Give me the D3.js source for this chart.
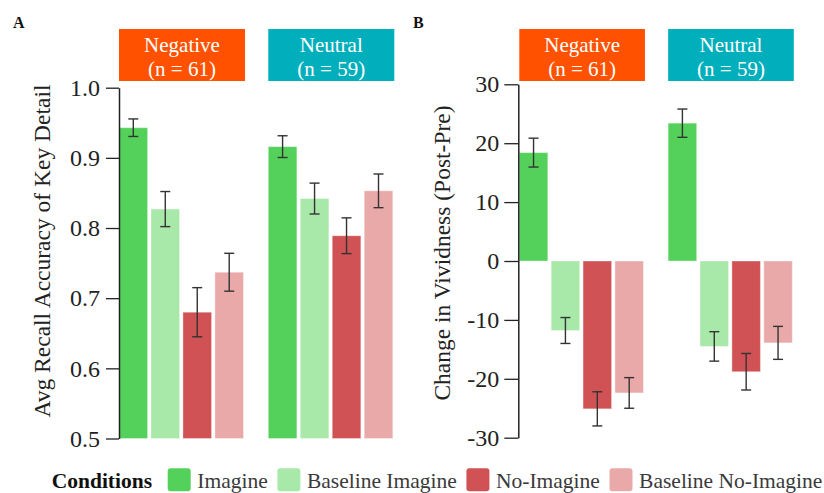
<!DOCTYPE html>
<html>
<head>
<meta charset="utf-8">
<script src="https://cdn.jsdelivr.net/npm/d3@7/dist/d3.min.js"></script>
<style>
  html, body { margin: 0; padding: 0; background: #fff; }
  svg { display: block; }
</style>
</head>
<body>
<svg id="chart" width="824" height="493"></svg>
<script>
// ---- data ----
const groups = ["Negative", "Neutral"];
const groupN = ["(n = 61)", "(n = 59)"];
const conditions = ["Imagine", "Baseline Imagine", "No-Imagine", "Baseline No-Imagine"];

// Panel A: average recall accuracy of key detail (mean, SE), per group
const recallNegative = [0.943, 0.827, 0.680, 0.737];
const recallNegativeErr = [0.0125, 0.025, 0.035, 0.027];
const recallNeutral = [0.916, 0.842, 0.789, 0.853];
const recallNeutralErr = [0.0155, 0.022, 0.0255, 0.024];
const recallTicks = [0.5, 0.6, 0.7, 0.8, 0.9, 1.0];
const recallTickLabels = ["0.5", "0.6", "0.7", "0.8", "0.9", "1.0"];

// Panel B: change in vividness (post - pre)
const vividNegative = [18.4, -11.8, -25.1, -22.4];
const vividNegativeErr = [2.45, 2.2, 2.9, 2.6];
const vividNeutral = [23.4, -14.5, -18.8, -13.9];
const vividNeutralErr = [2.4, 2.5, 3.1, 2.8];
const vividTicks = [-30, -20, -10, 0, 10, 20, 30];
const vividTickLabels = ["-30", "-20", "-10", "0", "10", "20", "30"];

const conditionColors = ["#54d15a", "#a8e8a8", "#d05254", "#e9a9a9"];
const groupColors = ["#ff5100", "#00afbb"];

const SERIF = "'Liberation Serif'";
const svg = d3.select("#chart");
const FONT_TICK = 24, FONT_TITLE = 23.5;

function panel(opts) {
  const g = svg.append("g");
  const y = d3.scaleLinear().domain(opts.domain).range([opts.yBottom, opts.yTop]);
  const x0 = d3.scaleBand().domain(groups)
    .range([opts.xLeft, opts.xRight]).paddingInner(0.166).paddingOuter(0);
  const x1 = d3.scaleBand().domain(conditions)
    .range([0, x0.bandwidth()]).paddingInner(0.106).paddingOuter(0);

  const rows = [];
  groups.forEach((grp, gi) => {
    conditions.forEach((c, ci) => {
      rows.push({ grp, gi, c, ci, v: opts.values[gi][ci], e: opts.errors[gi][ci] });
    });
  });

  // group header boxes
  groups.forEach((grp, gi) => {
    const bx = x0(grp);
    g.append("rect")
      .attr("x", bx).attr("y", 29)
      .attr("width", x0.bandwidth() + 1.5).attr("height", 52)
      .attr("fill", groupColors[gi]);
    const cx = bx + (x0.bandwidth() + 1.5) / 2;
    g.append("text").attr("x", cx).attr("y", 51.5)
      .attr("text-anchor", "middle").attr("fill", "#fff")
      .style("font-family", SERIF).attr("font-size", 21).text(grp);
    g.append("text").attr("x", cx).attr("y", 75.5)
      .attr("text-anchor", "middle").attr("fill", "#fff")
      .style("font-family", SERIF).attr("font-size", 21).text(groupN[gi]);
  });

  // bars
  const base = opts.baseline;
  g.append("g").selectAll("rect").data(rows).join("rect")
    .attr("x", d => x0(d.grp) + x1(d.c))
    .attr("width", x1.bandwidth())
    .attr("y", d => Math.min(y(d.v), y(base)))
    .attr("height", d => Math.abs(y(d.v) - y(base)))
    .attr("fill", d => conditionColors[d.ci])
    .attr("stroke", "#ffffff").attr("stroke-opacity", 0.35).attr("stroke-width", 1);

  // error bars
  const eb = g.append("g").attr("stroke", "#333").attr("stroke-width", 1.4).attr("fill", "none");
  rows.forEach(d => {
    const cx = x0(d.grp) + x1(d.c) + x1.bandwidth() / 2;
    const y1 = y(d.v + d.e), y2 = y(d.v - d.e);
    eb.append("line").attr("x1", cx).attr("x2", cx).attr("y1", y1).attr("y2", y2);
    eb.append("line").attr("x1", cx - 5).attr("x2", cx + 5).attr("y1", y1).attr("y2", y1);
    eb.append("line").attr("x1", cx - 5).attr("x2", cx + 5).attr("y1", y2).attr("y2", y2);
  });

  // y axis
  const axis = d3.axisLeft(y)
    .tickValues(opts.ticks)
    .tickFormat((d, i) => opts.tickLabels[i])
    .tickSize(opts.tickSize).tickPadding(opts.tickPad).tickSizeOuter(0);
  const ag = g.append("g").attr("transform", `translate(${opts.axisX},0)`).call(axis);
  ag.select(".domain").attr("stroke", "#222").attr("stroke-width", 1.5);
  ag.selectAll(".tick line").attr("stroke", "#222").attr("stroke-width", 1.3);
  ag.selectAll(".tick text")
    .style("font-family", SERIF)
    .attr("font-size", FONT_TICK).attr("fill", "#222");

  // axis title
  g.append("text")
    .attr("transform", `translate(${opts.titleX},${opts.titleY}) rotate(-90)`)
    .attr("text-anchor", "middle").attr("dominant-baseline", "central")
    .style("font-family", SERIF)
    .attr("font-size", FONT_TITLE).attr("fill", "#222")
    .text(opts.title);

  // panel letter
  g.append("text").attr("x", opts.letterX).attr("y", 28)
    .style("font-family", SERIF)
    .attr("font-weight", "bold").attr("font-size", 16).attr("fill", "#111")
    .text(opts.letter);
}

panel({
  letter: "A", letterX: 13,
  domain: [0.5, 1.0], yBottom: 438.5, yTop: 87.7,
  xLeft: 119, xRight: 392.8, axisX: 119,
  baseline: 0.5,
  values: [recallNegative, recallNeutral],
  errors: [recallNegativeErr, recallNeutralErr],
  ticks: recallTicks, tickLabels: recallTickLabels,
  tickSize: 13, tickPad: 6,
  title: "Avg Recall Accuracy of Key Detail", titleX: 42, titleY: 251
});

panel({
  letter: "B", letterX: 413,
  domain: [-30, 30], yBottom: 437.7, yTop: 84.3,
  xLeft: 519.3, xRight: 792.3, axisX: 518.3,
  baseline: 0,
  values: [vividNegative, vividNeutral],
  errors: [vividNegativeErr, vividNeutralErr],
  ticks: vividTicks, tickLabels: vividTickLabels,
  tickSize: 14, tickPad: 5,
  title: "Change in Vividness (Post-Pre)", titleX: 442, titleY: 253
});

// legend
const lg = svg.append("g");
lg.append("text").attr("x", 51.7).attr("y", 487.7)
  .style("font-family", SERIF)
  .attr("font-weight", "bold").attr("font-size", 21.5).attr("fill", "#111")
  .text("Conditions");
let lx = 167.7;
conditions.forEach((c, i) => {
  lg.append("rect").attr("x", lx).attr("y", 468.3).attr("width", 23).attr("height", 23)
    .attr("rx", 3).attr("fill", conditionColors[i]);
  const t = lg.append("text").attr("x", lx + 29.6).attr("y", 487.7)
    .style("font-family", SERIF)
    .attr("font-size", 21.5).attr("fill", "#3a3a3a").text(c);
  lx += 29.6 + t.node().getComputedTextLength() + 9.6;
});
</script>
</body>
</html>
